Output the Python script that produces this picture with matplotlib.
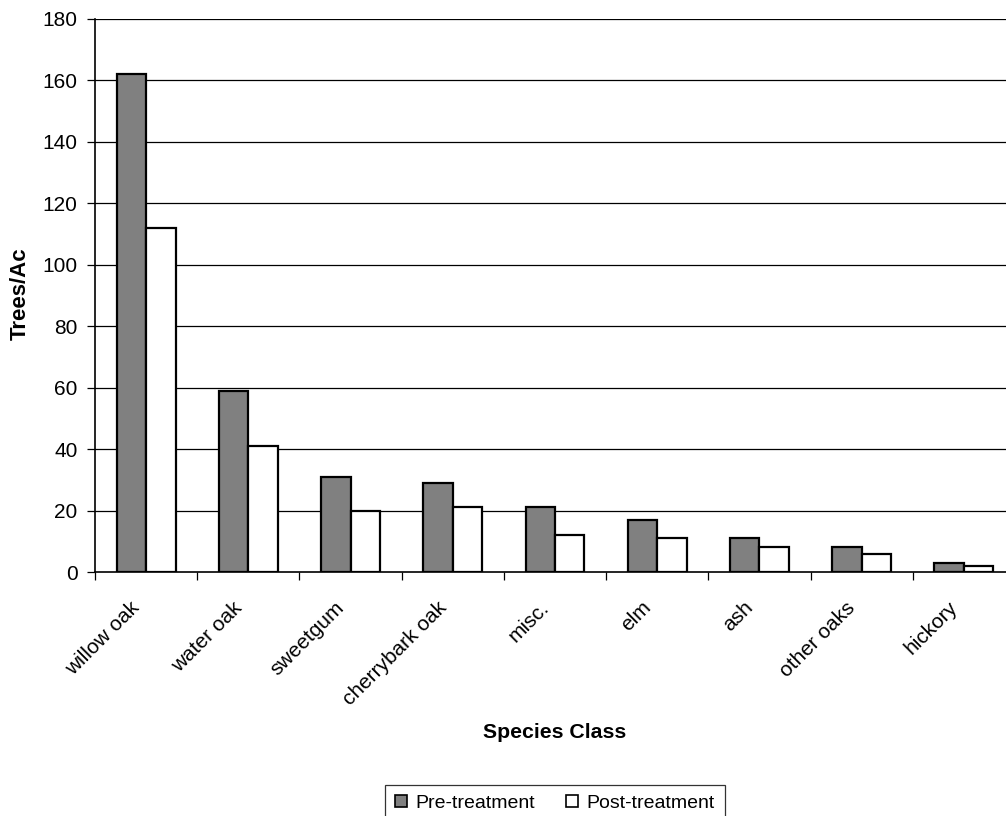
import matplotlib
matplotlib.use("Agg")
import matplotlib.pyplot as plt
import numpy as np
from matplotlib.patches import Patch
from matplotlib.transforms import ScaledTranslation

plt.rcParams['font.family'] = ['Liberation Sans', 'DejaVu Sans']

categories = ["willow oak", "water oak", "sweetgum", "cherrybark oak", "misc.",
              "elm", "ash", "other oaks", "hickory"]
pre = [162, 59, 31, 29, 21, 17, 11, 8, 3]
post = [112, 41, 20, 21, 12, 11, 8, 6, 2]
yticks = [0, 20, 40, 60, 80, 100, 120, 140, 160, 180]

W, H = 1006, 816
fig = plt.figure(figsize=(W / 100, H / 100), dpi=100)
left, right, top, bottom = 95, 1015, 19, 572
ax = fig.add_axes([left / W, 1 - bottom / H, (right - left) / W, (bottom - top) / H])

x = np.arange(len(categories))
bw = 0.288
ax.bar(x - bw / 2, pre, bw, color="#808080", edgecolor="black", linewidth=1.6, zorder=3,
       label="Pre-treatment")
ax.bar(x + bw / 2, post, bw, color="white", edgecolor="black", linewidth=1.6, zorder=3,
       label="Post-treatment")

ax.set_xlim(-0.5, len(categories) - 0.5)
ax.set_ylim(0, 180)
ax.set_yticks(yticks)
ax.set_yticklabels([str(v) for v in yticks], fontsize=15)
for v in yticks[1:]:
    ax.axhline(v, color="black", lw=0.9, zorder=1)

ax.set_xticks(np.arange(len(categories) + 1) - 0.5)
ax.set_xticklabels([])
ax.tick_params(axis='x', direction='out', length=6, width=0.9, color="black")
ax.tick_params(axis='y', direction='out', length=6, width=0.9, pad=6.5)

off = ScaledTranslation(-16 / 100, -26 / 100, fig.dpi_scale_trans)
for xi, name in zip(x, categories):
    ax.text(xi, 0, name, transform=ax.get_xaxis_transform() + off, rotation=45,
            ha='right', va='top', rotation_mode='anchor', fontsize=15)

for s in ["top", "right"]:
    ax.spines[s].set_visible(False)
ax.spines["left"].set_linewidth(1.2)
ax.spines["bottom"].set_linewidth(1.2)

fig.text(20 / W, 1 - 294 / H, "Trees/Ac", rotation=90, ha='center', va='center',
         fontsize=16, fontweight='bold')
fig.text(555 / W, 1 - 733 / H, "Species Class", ha='center', va='center',
         fontsize=15.3, fontweight='bold')

handles = [Patch(facecolor="#808080", edgecolor="black", lw=1.2, label="Pre-treatment"),
           Patch(facecolor="white", edgecolor="black", lw=1.2, label="Post-treatment")]
leg = fig.legend(handles=handles, loc='upper center', bbox_to_anchor=(555 / W, 1 - 785 / H),
                 ncol=2, fontsize=14, frameon=True, fancybox=False, handlelength=0.6,
                 handleheight=0.6, handletextpad=0.45, columnspacing=1.6,
                 borderpad=0.5, borderaxespad=0)
leg.get_frame().set_edgecolor("black")
leg.get_frame().set_linewidth(0.9)

fig.savefig("out.png", dpi=100)
